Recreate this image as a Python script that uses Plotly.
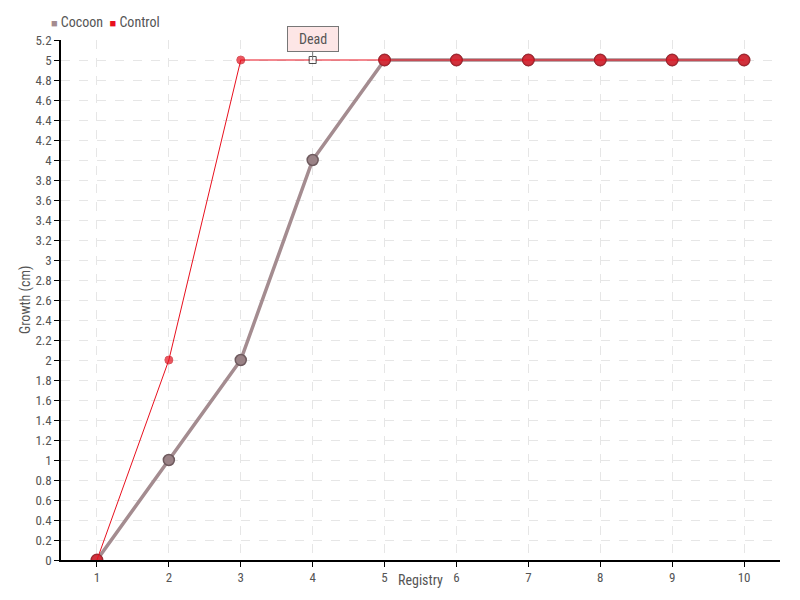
import plotly.graph_objects as go

registry = [1, 2, 3, 4, 5, 6, 7, 8, 9, 10]
cocoon = [0, 1, 2, 4, 5, 5, 5, 5, 5, 5]
control = [0, 2, 5, 5, 5, 5, 5, 5, 5, 5]
y_ticks = [round(i * 0.2, 1) for i in range(27)]

fnt = "Roboto Condensed, Roboto, sans-serif"
cocoon_col = "#a48c90"
control_col = "#e8101e"

fig = go.Figure()

fig.add_trace(go.Scatter(
    x=registry, y=cocoon, name="Cocoon", mode="lines+markers",
    line=dict(color=cocoon_col, width=3.5),
    marker=dict(size=11, color="#9a8286", symbol="circle",
                line=dict(color="#6e5a5e", width=1.5)),
))

ctrl_sizes = [12, 8, 8, 7, 12, 12, 12, 12, 12, 12]
ctrl_symbols = ["circle"] * 10
ctrl_symbols[3] = "square"
ctrl_colors = [control_col] * 10
ctrl_colors[3] = "white"
ctrl_borders = ["#a0101a", "#c8101a", "#c8101a", "black"] + ["#a0101a"] * 6
fig.add_trace(go.Scatter(
    x=registry, y=control, name="Control", mode="lines+markers",
    line=dict(color=control_col, width=1),
    marker=dict(size=ctrl_sizes, color=ctrl_colors, symbol=ctrl_symbols,
                line=dict(color=ctrl_borders, width=1)),
))

# compact legend, written as text
fig.add_annotation(
    xref="paper", yref="paper", x=-0.016, y=1.035, xanchor="left", yanchor="middle",
    showarrow=False, font=dict(size=14, color="#555", family=fnt),
    text=(f"<span style='color:{cocoon_col};font-size:11px'>■</span> Cocoon  "
          f"<span style='color:{control_col};font-size:11px'>■</span> Control"),
)

fig.add_annotation(
    x=4, y=5, text="Dead", showarrow=True, arrowhead=0, arrowwidth=1,
    arrowcolor="#777", ax=0, ay=-21, bgcolor="#fde6e6", bordercolor="#777",
    borderwidth=1, width=48, height=22, font=dict(size=14, color="#555", family=fnt),
)

# axis titles
fig.add_annotation(
    xref="paper", yref="paper", x=0.5, y=-0.0385, xanchor="center", yanchor="middle",
    showarrow=False, text="Registry", font=dict(size=14, color="#555", family=fnt),
)
fig.add_annotation(
    xref="paper", yref="paper", x=-0.05, y=0.5, xanchor="center", yanchor="middle",
    showarrow=False, textangle=-90, text="Growth (cm)",
    font=dict(size=14, color="#555", family=fnt),
)

axis_common = dict(
    showline=True, linecolor="black", linewidth=1.5, ticks="outside",
    ticklen=5, tickcolor="black", showgrid=True, gridcolor="#e6e6e6",
    griddash="dash", zeroline=False, tickfont=dict(size=13, color="#555", family=fnt),
)

# page body has an 8px margin, so the figure is slightly smaller than the window
fig.update_layout(
    width=792, height=592, plot_bgcolor="white", paper_bgcolor="white",
    margin=dict(l=53, r=20, t=32, b=40, autoexpand=False),
    font=dict(family=fnt, color="#555"),
    showlegend=False,
    xaxis=dict(range=[0.5, 10.5], tickvals=registry, **axis_common),
    yaxis=dict(range=[0, 5.2], tickvals=y_ticks, ticklabelstandoff=0,
               ticktext=[("%g" % v) for v in y_ticks], **axis_common),
)

fig.write_html("out.html")
